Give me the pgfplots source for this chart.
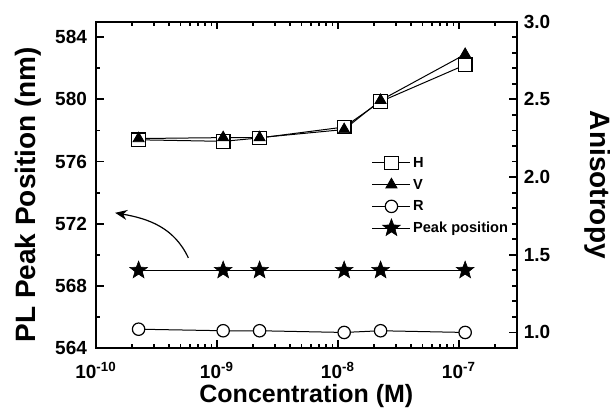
\documentclass[border=0pt]{standalone}
\usepackage{fontspec}
\setmainfont{Liberation Sans}
\usepackage{pgfplots}
\pgfplotsset{compat=1.18}
\usetikzlibrary{arrows.meta}

\pgfdeclareplotmark{fstar}{%
  \pgfpathmoveto{\pgfpointpolar{90}{\pgfplotmarksize}}%
  \pgfpathlineto{\pgfpointpolar{126}{0.42\pgfplotmarksize}}%
  \pgfpathlineto{\pgfpointpolar{162}{\pgfplotmarksize}}%
  \pgfpathlineto{\pgfpointpolar{198}{0.42\pgfplotmarksize}}%
  \pgfpathlineto{\pgfpointpolar{234}{\pgfplotmarksize}}%
  \pgfpathlineto{\pgfpointpolar{270}{0.42\pgfplotmarksize}}%
  \pgfpathlineto{\pgfpointpolar{306}{\pgfplotmarksize}}%
  \pgfpathlineto{\pgfpointpolar{342}{0.42\pgfplotmarksize}}%
  \pgfpathlineto{\pgfpointpolar{18}{\pgfplotmarksize}}%
  \pgfpathlineto{\pgfpointpolar{54}{0.42\pgfplotmarksize}}%
  \pgfpathclose
  \pgfusepathqfillstroke
}

\begin{document}
\begin{tikzpicture}
\begin{axis}[name=ax,
  scale only axis, width=210.35pt, height=163.15pt,
  xmode=log, xmin=1e-10, xmax=3e-7,
  tick align=inside,
  major tick length=3.8pt, minor tick length=2.2pt,
  every tick/.style={black, line width=0.9pt},
  axis line style={line width=1.1pt},
  /pgf/number format/assume math mode=true,
  tick label style={font=\fontsize{9.5}{11}\selectfont\bfseries},
  ymin=564, ymax=585, ytick={564,568,...,584}, minor ytick={566,570,...,582},
  ytick pos=left, xtick pos=both, xticklabel pos=bottom,
  xtick={1e-10,1e-9,1e-8,1e-7},
  minor xtick={2e-10,3e-10,4e-10,5e-10,6e-10,7e-10,8e-10,9e-10,
               2e-9,3e-9,4e-9,5e-9,6e-9,7e-9,8e-9,9e-9,
               2e-8,3e-8,4e-8,5e-8,6e-8,7e-8,8e-8,9e-8,2e-7},
  xticklabels={10\textsuperscript{-10},10\textsuperscript{-9},10\textsuperscript{-8},10\textsuperscript{-7}},
  xticklabel style={yshift=-3.5pt},
  yticklabel style={xshift=-1pt},
  xlabel={Concentration (M)}, ylabel={PL Peak Position (nm)},
  every axis x label/.style={at={(axis description cs:0.5,0)}, anchor=base, yshift=-27.5pt, font=\fontsize{12.5}{14}\selectfont\bfseries},
  every axis y label/.style={at={(axis description cs:-0.1426,0.47)}, anchor=base, rotate=90, font=\fontsize{14}{16}\selectfont\bfseries},
]
\addplot[black, line width=0.5pt, mark=fstar, mark size=4.6pt, mark options={fill=black, line width=0.3pt}]
  coordinates {(2.25e-10,569) (1.125e-9,569) (2.25e-9,569) (1.125e-8,569) (2.25e-8,569) (1.125e-7,569)};
\draw[black, line width=0.6pt, -{Stealth[length=6pt,width=5pt]}]
  (axis cs:5.8e-10,569.8) to[out=115, in=-10] (axis cs:1.44e-10,572.7);
\end{axis}

\begin{axis}[
  scale only axis, width=210.35pt, height=163.15pt,
  xmode=log, xmin=1e-10, xmax=3e-7,
  tick align=inside,
  major tick length=3.8pt, minor tick length=2.2pt,
  every tick/.style={black, line width=0.9pt},
  axis line style={line width=1.1pt},
  /pgf/number format/assume math mode=true,
  tick label style={font=\fontsize{9.5}{11}\selectfont\bfseries},
  hide x axis, axis y line*=right,
  ymin=0.9, ymax=3.0, ytick={1.0,1.5,...,3.0}, minor tick num=4,
  yticklabel style={/pgf/number format/.cd, fixed, fixed zerofill, precision=1},
  ylabel={Anisotropy},
  every axis y label/.style={at={(axis description cs:1.175,0.5)}, anchor=base, rotate=-90, font=\fontsize{14}{16}\selectfont\bfseries},
  legend style={at={(0.655,0.598)}, anchor=north west, draw=none, fill=none, inner sep=0pt,
    font=\fontsize{7.3}{9}\selectfont\bfseries,
    nodes={inner sep=1.1pt, text height=6pt, text depth=1.5pt}, row sep=1.15pt},
  legend cell align=left,
  legend image code/.code={\draw[mark repeat=2,mark phase=2,#1] plot coordinates {(0pt,0pt)(9.5pt,0pt)(19pt,0pt)};},
]
\addplot[black, line width=0.5pt, mark=square*, mark size=3.4pt, mark options={fill=white, draw=black, line width=0.6pt}]
  coordinates {(2.25e-10,2.240) (1.125e-9,2.230) (2.25e-9,2.252) (1.125e-8,2.322) (2.25e-8,2.486) (1.125e-7,2.722)};
\addlegendentry{H}
\addplot[black, line width=0.5pt, mark=triangle*, mark size=3.2pt, mark options={fill=black, draw=black, line width=0.4pt}]
  coordinates {(2.25e-10,2.248) (1.125e-9,2.254) (2.25e-9,2.254) (1.125e-8,2.306) (2.25e-8,2.494) (1.125e-7,2.790)};
\addlegendentry{V}
\addplot[black, line width=0.5pt, mark=*, mark size=3.1pt, mark options={fill=white, draw=black, line width=0.6pt}]
  coordinates {(2.25e-10,1.021) (1.125e-9,1.011) (2.25e-9,1.011) (1.125e-8,1.000) (2.25e-8,1.011) (1.125e-7,1.000)};
\addlegendentry{R}
\addlegendimage{black, line width=0.5pt, mark=fstar, mark size=4.6pt, mark options={fill=black, line width=0.3pt}}
\addlegendentry{Peak position}
\end{axis}

\pgfresetboundingbox
\path[use as bounding box] ([xshift=-48pt,yshift=-30.5pt]ax.south west) rectangle ([xshift=46.65pt,yshift=10.85pt]ax.north east);
\end{tikzpicture}
\end{document}
